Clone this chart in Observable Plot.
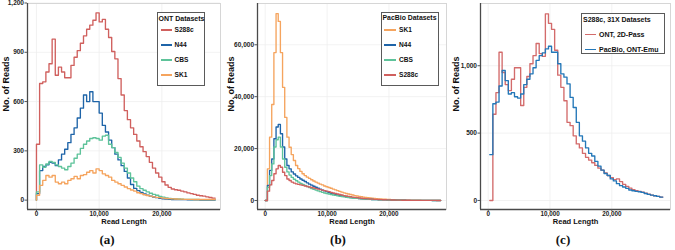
<!DOCTYPE html>
<html>
<head>
<meta charset="utf-8">
<script src="https://cdn.jsdelivr.net/npm/d3@7"></script>
<script src="https://cdn.jsdelivr.net/npm/@observablehq/plot@0.6"></script>
<style>
  body { margin: 0; background: #fff; }
  #wrap { position: relative; width: 675px; height: 250px; overflow: hidden; font-family: "Liberation Sans", Arial, sans-serif; }
  .panel { position: absolute; top: 0; }
  .panel svg { overflow: visible; }
  .lab { position: absolute; font-family: "Liberation Serif", "Times New Roman", serif; font-weight: bold; font-size: 13px; line-height: 1; white-space: nowrap; transform: translateX(-50%); color: #111; }
  .lg { position: absolute; border: 1px solid #5a5a5a; background: #fff; box-sizing: border-box; }
  .lgt { position: absolute; font-weight: bold; line-height: 1; white-space: nowrap; color: #111; }
  .lgk { position: absolute; height: 1.5px; }
</style>
</head>
<body>
<div id="wrap"></div>
<script>
// ---------- data ----------
const xTicks = [0, 10000, 20000];

// (a) ONT read-length histograms, bins of 500 starting at 0
const ontStart = 0, ontBin = 500;
const ontNames = ["S288c", "N44", "CBS", "SK1"];
const ontS288c = [340, 710, 720, 780, 830, 980, 760, 810, 780, 745, 745, 820, 870, 910, 955, 1000, 1040, 1065, 1095, 1140, 1085, 1100, 1040, 990, 905, 860, 740, 640, 545, 490, 440, 400, 360, 325, 295, 265, 230, 195, 165, 140, 112, 92, 78, 68, 63, 60, 55, 50, 44, 40, 35, 30, 27, 24, 20, 16, 12];
const ontN44 = [40, 180, 205, 215, 230, 225, 210, 245, 280, 310, 350, 400, 440, 500, 560, 640, 600, 660, 600, 600, 530, 455, 415, 365, 320, 280, 245, 210, 175, 135, 95, 72, 58, 47, 38, 30, 24, 19, 15, 11, 8, 6, 5, 4, 4, 3, 3, 3, 2, 2, 2, 2, 1, 1, 1, 1, 1];
const ontCBS = [50, 215, 200, 220, 235, 230, 215, 205, 195, 185, 205, 225, 255, 280, 315, 340, 360, 375, 380, 375, 365, 390, 395, 340, 320, 290, 260, 225, 195, 165, 135, 112, 85, 70, 60, 50, 42, 35, 30, 22, 18, 14, 10, 9, 8, 7, 6, 5, 5, 4, 4, 4, 3, 3, 3, 3, 3];
const ontSK1 = [30, 90, 120, 150, 140, 150, 110, 100, 110, 100, 120, 130, 145, 130, 150, 155, 170, 180, 165, 190, 180, 160, 150, 140, 120, 110, 100, 90, 80, 70, 62, 55, 45, 40, 33, 28, 24, 20, 17, 15, 12, 10, 9, 8, 7, 6, 6, 5, 5, 5, 4, 4, 4, 4, 4, 4, 4];
const ontYTicks = [0, 300, 600, 900, 1200];

// (b) PacBio read-length histograms, bins of 350 starting at 0
const pbStart = 0, pbBin = 350;
const pbNames = ["SK1", "N44", "CBS", "S288c"];
const pbSK1 = [0, 12200, 24400, 37000, 57000, 72000, 69000, 57000, 43600, 32000,
  24400, 20500, 17700, 15400, 13500, 12300, 11200, 10300, 9600, 9000,
  8500, 8000, 7500, 7100, 6700, 6300, 6000, 5600, 5300, 5000,
  4700, 4400, 4100, 3800, 3500, 3200, 2950, 2700, 2500, 2300,
  2100, 1900, 1750, 1600, 1450, 1300, 1180, 1070, 970, 880,
  800, 720, 650, 590, 530, 480, 430, 390, 350, 310,
  280, 250, 220, 200, 180, 160, 140, 125, 110, 100,
  90, 80, 70, 62, 55, 50, 45, 40, 35, 30, 25];
const pbN44 = [0, 5800, 11600, 16000, 23800, 28300, 29300, 25700, 20600, 16000,
  13500, 12200, 11000, 10200, 9500, 8900, 8300, 7800, 7300, 6800,
  6300, 5900, 5500, 5100, 4700, 4400, 4000, 3700, 3400, 3100,
  2800, 2600, 2350, 2150, 1950, 1750, 1600, 1450, 1300, 1150,
  1050, 950, 850, 750, 680, 610, 550, 490, 440, 400,
  360, 320, 290, 260, 230, 210, 190, 170, 150, 135,
  120, 105, 95, 85, 75, 68, 60, 54, 48, 43,
  38, 34, 30, 27, 24, 21, 18, 16, 14, 12, 10];
const pbCBS = [0, 5100, 9600, 14100, 20600, 23400, 24400, 20600, 16000, 12800,
  11000, 9800, 8900, 8200, 7600, 7100, 6600, 6200, 5800, 5400,
  5000, 4600, 4300, 4000, 3700, 3400, 3150, 2900, 2700, 2500,
  2300, 2100, 1950, 1800, 1650, 1500, 1380, 1260, 1150, 1050,
  950, 870, 790, 720, 650, 590, 540, 490, 440, 400,
  360, 325, 295, 265, 240, 215, 195, 175, 155, 140,
  125, 110, 100, 90, 80, 72, 64, 57, 51, 46,
  41, 36, 32, 28, 25, 22, 19, 17, 15, 13, 11];
const pbS288c = [0, 3600, 6000, 7700, 10300, 12200, 13500, 12800, 10900, 9600,
  8300, 7700, 7100, 6700, 6400, 6200, 6000, 5800, 5600, 5400,
  5200, 5000, 4800, 4600, 4400, 4200, 4000, 3800, 3600, 3400,
  3150, 2900, 2700, 2500, 2300, 2100, 1900, 1750, 1600, 1450,
  1300, 1200, 1080, 970, 870, 780, 700, 630, 570, 510,
  460, 410, 370, 330, 300, 270, 240, 215, 195, 175,
  155, 140, 125, 110, 100, 90, 80, 72, 64, 57,
  51, 46, 41, 36, 32, 28, 25, 22, 19, 17, 15];
const pbYTicks = [0, 20000, 40000, 60000];

// (c) S288c 31X comparison, bins of 500 starting at 250
const cmpStart = 250, cmpBin = 500;
const cmpNames = ["ONT, 2D-Pass", "PacBio, ONT-Emu"];
const cmpONT = [0, 640, 800, 1100, 950, 860, 815, 900, 985, 985, 705, 840, 920, 1015, 1075, 1165, 1090, 1070, 1385, 1315, 1270, 1115, 930, 840, 740, 580, 555, 480, 420, 390, 350, 320, 300, 280, 260, 240, 225, 205, 185, 170, 155, 160, 140, 120, 105, 92, 80, 72, 68, 62, 55, 46, 40, 35, 30, 25];
const cmpPacBio = [340, 718, 730, 850, 965, 890, 790, 800, 770, 760, 790, 860, 900, 940, 985, 1040, 1075, 1095, 1125, 1145, 1100, 1100, 1015, 940, 915, 865, 765, 690, 580, 480, 440, 390, 350, 330, 290, 255, 225, 200, 185, 160, 145, 125, 110, 100, 90, 78, 72, 68, 65, 60, 52, 45, 40, 35, 30, 25];
const cmpYTicks = [0, 500, 1000];

// ---------- helpers ----------
const colS288c = "#D0605E", colN44 = "#1E64A8", colCBS = "#5EC39A", colSK1 = "#F5A45E";
const colONT = "#D36B6B", colPB = "#2377B8";

function stepPoints(values, start, width, name, leadZero) {
  const pts = [];
  if (leadZero) pts.push({x: start, y: 0, s: name});
  values.forEach((v, i) => pts.push({x: start + i * width, y: v, s: name}));
  pts.push({x: start + values.length * width, y: values[values.length - 1], s: name});
  return pts;
}

const wrap = document.getElementById("wrap");

function panel(o) {
  const [x0] = o.xDomain, [y0] = o.yDomain;
  const fmt = d3.format(",");
  const plot = Plot.plot({
    width: o.width, height: 230,
    marginLeft: o.ml, marginRight: o.mr, marginTop: 3, marginBottom: 21,
    style: {fontFamily: "Liberation Sans, Arial, sans-serif", fontSize: "6.5px", color: "#222", background: "transparent"},
    x: {domain: o.xDomain},
    y: {domain: o.yDomain},
    color: {domain: o.names, range: o.colors},
    marks: [
      Plot.gridX({ticks: xTicks, stroke: "#ececec", strokeOpacity: 1, strokeWidth: 0.7}),
      Plot.gridY({ticks: o.yTicks, stroke: "#ececec", strokeOpacity: 1, strokeWidth: 0.7}),
      Plot.frame({stroke: "#d6d6d6", strokeWidth: 1}),
      Plot.line(o.data, {x: "x", y: "y", z: "s", stroke: "s", curve: "step-after", strokeWidth: 1.35}),
      Plot.ruleX([x0], {stroke: "#4a4a4a", strokeWidth: 1.3}),
      Plot.ruleY([y0], {stroke: "#4a4a4a", strokeWidth: 1.3}),
      Plot.axisX({ticks: xTicks, tickFormat: fmt, tickSize: 2, tickPadding: 0, fontSize: 6.3, fontWeight: "bold", label: null, stroke: "#555"}),
      Plot.axisY({ticks: o.yTicks, tickFormat: fmt, tickSize: 2.5, tickPadding: 1, fontSize: 6.5, fontWeight: "bold", label: null, stroke: "#555"}),
      Plot.text(["Read Length"], {frameAnchor: "bottom", dy: 14, fontSize: 7.5, fontWeight: "bold", fill: "#111"}),
      Plot.text(["No. of Reads"], {frameAnchor: "left", rotate: -90, dx: o.ytDx, dy: 5, fontSize: 9, fontWeight: "bold", fill: "#111"})
    ]
  });
  const div = document.createElement("div");
  div.className = "panel";
  div.style.left = o.left + "px";
  div.appendChild(plot);
  wrap.appendChild(div);

  const lab = document.createElement("div");
  lab.className = "lab";
  lab.textContent = o.label;
  lab.style.left = o.labX + "px";
  lab.style.top = "233px";
  wrap.appendChild(lab);

  const L = o.legend;
  const box = document.createElement("div");
  box.className = "lg";
  Object.assign(box.style, {left: L.x + "px", top: L.y + "px", width: L.w + "px", height: L.h + "px"});
  wrap.appendChild(box);
  const t = document.createElement("div");
  t.className = "lgt";
  t.textContent = L.title;
  Object.assign(t.style, {left: L.titleX + "px", top: (L.titleY - L.titleSize / 2) + "px", fontSize: L.titleSize + "px"});
  wrap.appendChild(t);
  o.names.forEach((n, i) => {
    const cy = L.row0 + i * L.rowStep;
    const k = document.createElement("div");
    k.className = "lgk";
    Object.assign(k.style, {left: L.keyX + "px", width: L.keyW + "px", top: (cy - 0.75) + "px", background: o.colors[i]});
    wrap.appendChild(k);
    const tx = document.createElement("div");
    tx.className = "lgt";
    tx.textContent = n;
    Object.assign(tx.style, {left: L.labelX + "px", top: (cy - L.labelSize / 2) + "px", fontSize: L.labelSize + "px"});
    wrap.appendChild(tx);
  });
}

// (a)
const ontSeries = [ontS288c, ontN44, ontCBS, ontSK1];
panel({
  left: 0, width: 225, ml: 27, mr: 5, ytDx: -21,
  xDomain: [-1430, 29350], yDomain: [-57, 1197], yTicks: ontYTicks,
  names: ontNames, colors: [colS288c, colN44, colCBS, colSK1],
  data: ontSeries.flatMap((v, i) => stepPoints(v, ontStart, ontBin, ontNames[i], true)),
  label: "(a)", labX: 107,
  legend: {x: 157, y: 12, w: 48, h: 74, title: "ONT Datasets", titleX: 158.5, titleY: 18.5, titleSize: 7,
           row0: 30, rowStep: 15, keyX: 161, keyW: 11, labelX: 174.5, labelSize: 6.6}
});

// (b)
const pbSeries = [pbSK1, pbN44, pbCBS, pbS288c];
panel({
  left: 225, width: 225, ml: 32, mr: 4, ytDx: -26,
  xDomain: [-1250, 29300], yDomain: [-3470, 75900], yTicks: pbYTicks,
  names: pbNames, colors: [colSK1, colN44, colCBS, colS288c],
  data: pbSeries.flatMap((v, i) => stepPoints(v, pbStart, pbBin, pbNames[i], true)),
  label: "(b)", labX: 338,
  legend: {x: 381, y: 12, w: 58, h: 74, title: "PacBio Datasets", titleX: 382.5, titleY: 18.5, titleSize: 6.9,
           row0: 30, rowStep: 15, keyX: 384, keyW: 12, labelX: 399, labelSize: 6.6}
});

// (c)
panel({
  left: 450, width: 225, ml: 30, mr: 5, ytDx: -24,
  xDomain: [-1250, 29500], yDomain: [-67, 1462], yTicks: cmpYTicks,
  names: cmpNames, colors: [colONT, colPB],
  data: stepPoints(cmpONT, cmpStart, cmpBin, cmpNames[0], true)
          .concat(stepPoints(cmpPacBio, cmpStart, cmpBin, cmpNames[1], false)),
  label: "(c)", labX: 563,
  legend: {x: 581, y: 13, w: 84, h: 41, title: "S288c, 31X Datasets", titleX: 583, titleY: 19, titleSize: 7,
           row0: 34.5, rowStep: 15, keyX: 585, keyW: 11, labelX: 599, labelSize: 7}
});
</script>
</body>
</html>
